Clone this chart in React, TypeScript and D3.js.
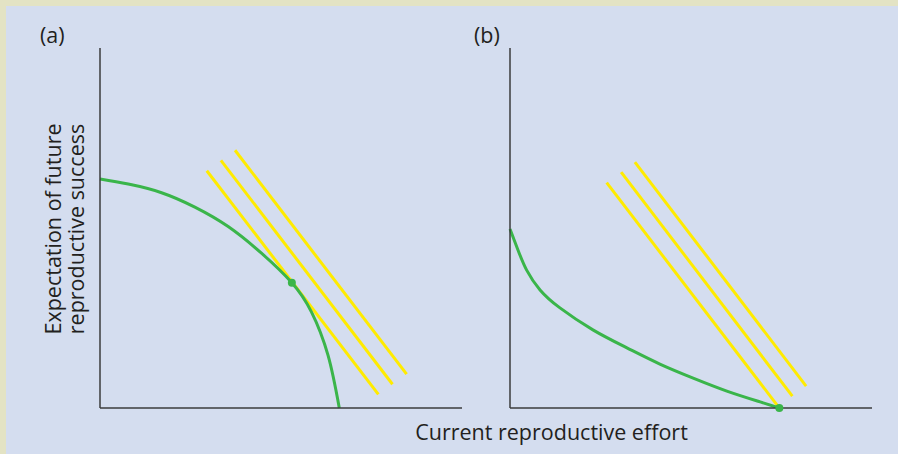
import React from "react";
import * as d3 from "d3";

// Panel (a): convex trade-off curve between current and future reproduction
const effortA = [0, 7.8, 17.0, 26.2, 35.4, 44.6, 53.0, 58.4, 63.0, 66.1];
const futureA = [63.6, 62.2, 59.8, 55.8, 50.4, 43.0, 34.8, 26.7, 14.6, 0];
const optimumA = [53.0, 34.8];

// Panel (b): concave trade-off curve
const effortB = [0, 2.2, 4.6, 8.3, 13.8, 22.9, 32.3, 41.4, 50.6, 59.9, 69.1, 74.4];
const futureB = [49.7, 43.9, 38.3, 32.8, 27.8, 21.7, 16.7, 12.2, 8.3, 4.7, 1.7, 0];
const optimumB = [74.4, 0];

// Lines of equal fitness (start effort, start future, end effort, end future)
const isoStartEffortA = [29.5, 33.4, 37.3];
const isoStartFutureA = [65.9, 68.8, 71.6];
const isoEndEffortA = [76.9, 80.8, 84.7];
const isoEndFutureA = [3.8, 6.6, 9.4];

const isoStartEffortB = [26.7, 30.7, 34.5];
const isoStartFutureB = [62.6, 65.5, 68.3];
const isoEndEffortB = [74.1, 78.0, 81.8];
const isoEndFutureB = [0.4, 3.3, 6.1];

const panelLabels = ["(a)", "(b)"];
const xTitle = "Current reproductive effort";
const yTitle = ["Expectation of future", "reproductive success"];

const W = 898;
const H = 454;
const FONT = "'Open Sans', 'Noto Sans', sans-serif";
const TEXT = "#231f20";
const AXIS = "#3b3b3d";
const GREEN = "#3ab54a";
const YELLOW = "#ffeb00";

type PanelProps = {
  left: number;
  label: string;
  labelX: number;
  effort: number[];
  future: number[];
  optimum: number[];
  iso: { x1: number; y1: number; x2: number; y2: number }[];
};

function Panel({ left, label, labelX, effort, future, optimum, iso }: PanelProps) {
  const x = d3.scaleLinear().domain([0, 100]).range([left, left + 362]);
  const y = d3.scaleLinear().domain([0, 100]).range([408, 48]);
  const pts: [number, number][] = effort.map((e, i) => [e, future[i]]);
  const line = d3
    .line<[number, number]>()
    .x((d) => x(d[0]))
    .y((d) => y(d[1]))
    .curve(d3.curveNatural);
  return (
    <g>
      <text x={labelX} y={43} fontFamily={FONT} fontSize={21.5} fill={TEXT}>
        {label}
      </text>
      {iso.map((l, i) => (
        <line
          key={i}
          x1={x(l.x1)}
          y1={y(l.y1)}
          x2={x(l.x2)}
          y2={y(l.y2)}
          stroke={YELLOW}
          strokeWidth={3}
        />
      ))}
      <path d={line(pts) || ""} fill="none" stroke={GREEN} strokeWidth={3} />
      <line x1={x(0)} y1={y(0)} x2={x(0)} y2={y(100)} stroke={AXIS} strokeWidth={1.5} />
      <line x1={x(0)} y1={y(0)} x2={x(100)} y2={y(0)} stroke={AXIS} strokeWidth={1.5} />
      <circle cx={x(optimum[0])} cy={y(optimum[1])} r={4} fill={GREEN} />
    </g>
  );
}

function isoLines(se: number[], sf: number[], ee: number[], ef: number[]) {
  return se.map((v, i) => ({ x1: v, y1: sf[i], x2: ee[i], y2: ef[i] }));
}

export default function App() {
  React.useEffect(() => {
    document.body.style.margin = "0";
  }, []);
  return (
    <svg
      width={W}
      height={H}
      viewBox={`0 0 ${W} ${H}`}
      style={{ position: "absolute", left: 0, top: 0, display: "block" }}
    >
      <rect x={0} y={0} width={W} height={H} fill="#e3e3c4" />
      <rect x={6} y={6} width={W - 6} height={H - 6} fill="#d4ddef" />
      <Panel
        left={100}
        label={panelLabels[0]}
        labelX={40}
        effort={effortA}
        future={futureA}
        optimum={optimumA}
        iso={isoLines(isoStartEffortA, isoStartFutureA, isoEndEffortA, isoEndFutureA)}
      />
      <Panel
        left={510}
        label={panelLabels[1]}
        labelX={474}
        effort={effortB}
        future={futureB}
        optimum={optimumB}
        iso={isoLines(isoStartEffortB, isoStartFutureB, isoEndEffortB, isoEndFutureB)}
      />
      <text
        x={551.5}
        y={440}
        textAnchor="middle"
        fontFamily={FONT}
        fontSize={21.5}
        fill={TEXT}
      >
        {xTitle}
      </text>
      <g transform="translate(0,229) rotate(-90)">
        <text x={0} y={61} textAnchor="middle" fontFamily={FONT} fontSize={21.5} fill={TEXT}>
          {yTitle[0]}
        </text>
        <text x={0} y={84} textAnchor="middle" fontFamily={FONT} fontSize={21.5} fill={TEXT}>
          {yTitle[1]}
        </text>
      </g>
    </svg>
  );
}
